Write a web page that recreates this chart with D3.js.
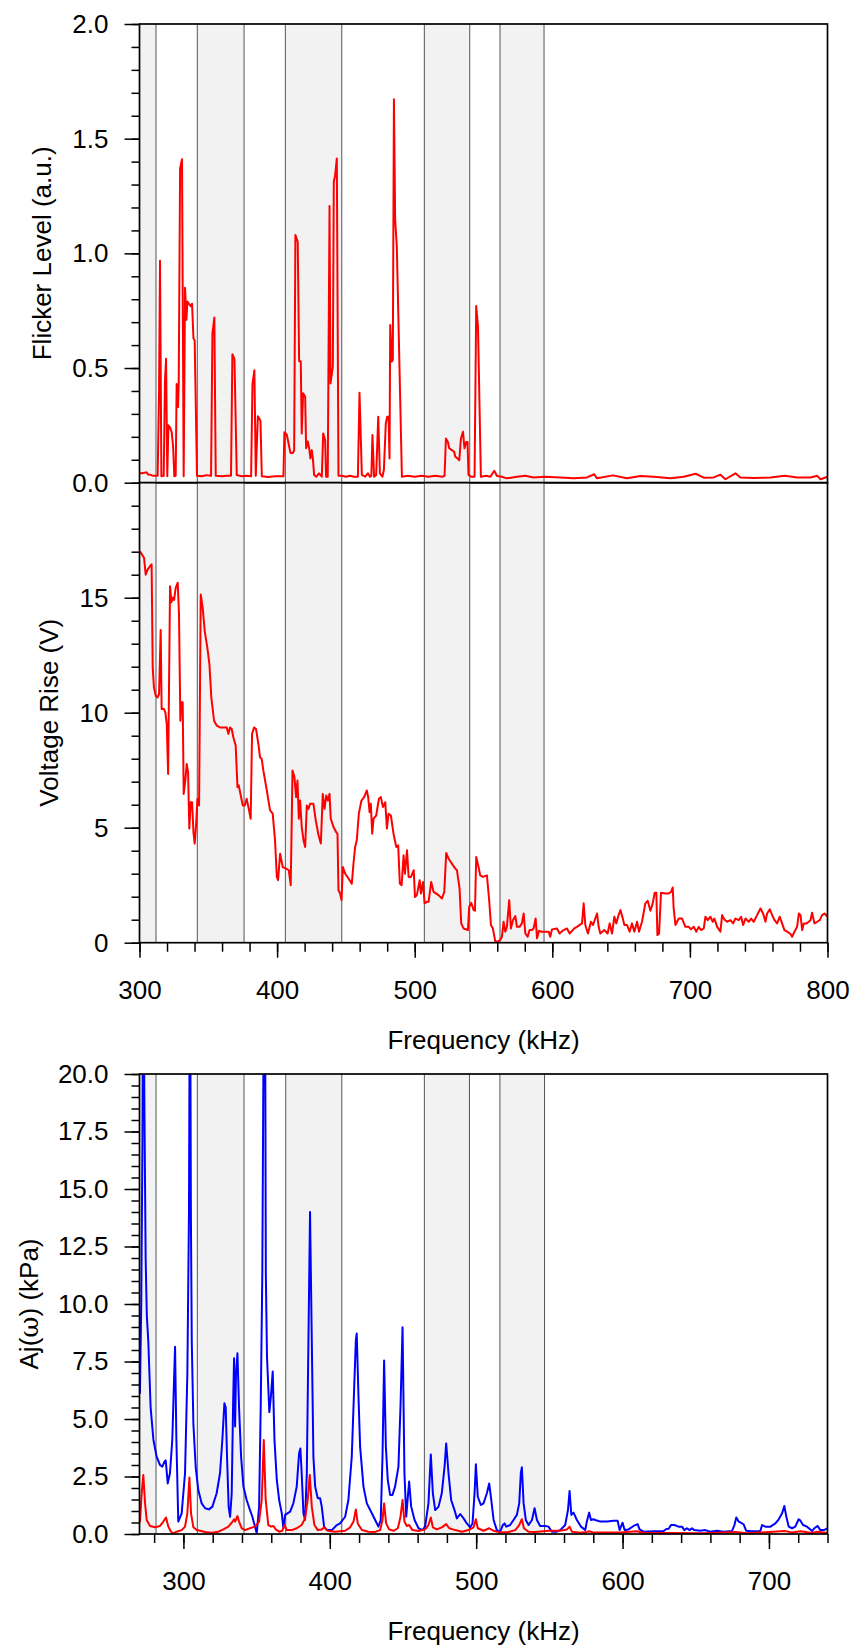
<!DOCTYPE html>
<html>
<head>
<meta charset="utf-8">
<script src="https://cdn.jsdelivr.net/npm/d3@7"></script>
<style>
  body { margin: 0; background: #fff; }
  svg { display: block; font-family: "Liberation Sans", Arial, sans-serif; }
</style>
</head>
<body>
<svg id="chart" width="853" height="1646"></svg>
<script>
// ---- data: [frequency kHz, value] ----
const flicker = [
  [300.3,0.041],[301.6,0.041],[303.5,0.043],[305.2,0.045],[306.2,0.036],[307.6,0.035],[310,0.03],[313.2,0.03],
  [314.2,0.4],[314.9,0.968],[315.4,0.5],[315.9,0.028],[317.6,0.03],[318.5,0.44],[319.3,0.54],[320.2,0.028],
  [321.0,0.25],[322.2,0.24],[323.4,0.22],[324.4,0.16],[325.3,0.028],[326.3,0.03],[327.0,0.43],[328.0,0.33],
  [328.5,0.43],[329.5,1.37],[330.9,1.41],[332.1,0.028],[333.1,0.85],[334.1,0.71],[334.8,0.79],[336.0,0.78],
  [337.2,0.77],[338.2,0.78],[339.2,0.63],[340.1,0.62],[341.8,0.03],[345.2,0.028],[348.8,0.033],[352.0,0.03],
  [353.0,0.65],[354.4,0.72],[355.4,0.03],[359.8,0.028],[363.4,0.03],[366.5,0.03],[367.5,0.56],[369.0,0.54],
  [370.7,0.033],[374.3,0.028],[377.9,0.03],[381.1,0.028],[382.1,0.43],[383.5,0.49],[384.5,0.03],[386.0,0.29],
  [387.9,0.27],[388.9,0.028],[393.7,0.025],[398.5,0.028],[404.6,0.028],[405.3,0.22],[407.0,0.21],[408.7,0.16],
  [409.7,0.13],[411.4,0.13],[412.4,0.14],[413.3,1.08],[415.0,1.05],[416.0,0.53],[417.2,0.53],[417.9,0.215],
  [418.9,0.39],[420.4,0.375],[421.1,0.15],[422.3,0.18],[423.3,0.15],[424.2,0.106],[425.2,0.142],[426.0,0.106],
  [426.9,0.034],[428.5,0.026],[430.5,0.041],[432.5,0.026],[433.5,0.215],[434.9,0.186],[435.6,0.026],[436.8,0.026],
  [438.1,1.206],[438.8,0.433],[439.8,0.477],[440.5,0.506],[441.2,1.312],[442.2,1.341],[443.4,1.414],[444.6,0.03],
  [447,0.03],[450,0.026],[453,0.03],[456,0.026],[458.7,0.026],[459.9,0.392],[461.6,0.034],[464,0.026],
  [466,0.041],[467.5,0.026],[468.5,0.03],[469.3,0.208],[470.5,0.026],[472,0.034],[473.5,0.288],[474.7,0.041],
  [476.5,0.026],[477.6,0.055],[479.0,0.259],[480.0,0.288],[481.0,0.288],[481.7,0.106],[482.2,0.688],[483.4,0.528],
  [484.1,0.535],[484.9,1.672],[485.8,1.146],[487.0,1.03],[490.7,0.026],[495,0.03],[500,0.026],[505,0.03],
  [510,0.026],[515,0.03],[520,0.026],[521.7,0.03],[522.7,0.193],[524.1,0.178],[525.1,0.15],[527.0,0.142],
  [528.7,0.135],[529.5,0.113],[531.1,0.106],[532.4,0.098],[533.6,0.193],[535.1,0.222],[536.2,0.15],[537.5,0.178],
  [538.4,0.178],[539.1,0.034],[541,0.026],[543.5,0.026],[544.7,0.77],[546.0,0.68],[548.1,0.026],[552,0.03],
  [555,0.026],[557.8,0.052],[559.8,0.029],[563.4,0.026],[567.0,0.019],[574.3,0.026],[580.4,0.03],[586.4,0.023],
  [594.4,0.026],[605.8,0.023],[615.5,0.019],[625.2,0.023],[630.5,0.037],[632.5,0.019],[644.1,0.032],[654.3,0.019],
  [664.0,0.029],[673.7,0.026],[685.8,0.019],[695.5,0.026],[704.2,0.039],[710.1,0.022],[717.3,0.023],[722.2,0.035],
  [725.8,0.015],[733.1,0.041],[736.7,0.023],[746.4,0.02],[758.5,0.023],[769.0,0.03],[778.0,0.023],[787.6,0.023],
  [792.5,0.03],[794.9,0.015],[800,0.026]
];

const voltageRise = [
  [300.4,17.02],[303.3,16.73],[304.5,16.0],[305.7,16.2],[307.6,16.37],[308.8,16.45],[309.6,11.96],[310.5,11.1],
  [311.8,10.74],[313.0,10.66],[314.2,10.8],[315.4,13.6],[316.1,10.16],[317.8,10.16],[318.8,10.0],[319.8,9.5],
  [320.8,7.34],[322.2,15.5],[323.2,14.8],[324.1,15.0],[325.1,14.9],[326.3,15.43],[327.8,15.65],[328.7,14.28],
  [329.7,9.65],[330.4,10.45],[331.4,10.45],[332.1,6.47],[333.3,7.05],[334.3,7.77],[335.3,7.41],[336.2,4.96],
  [337.2,6.11],[338.2,6.11],[339.2,4.81],[340.1,4.31],[341.1,5.1],[342.1,6.26],[343.3,5.97],[344.5,15.14],
  [345.9,14.57],[347.4,13.55],[349.3,12.83],[350.8,12.11],[352.2,10.66],[354.2,9.65],[356.1,9.44],[358.5,9.36],
  [361.0,9.36],[363.4,9.36],[364.6,9.08],[365.8,9.36],[367.0,9.29],[368.2,8.93],[369.9,8.57],[371.2,6.76],
  [372.1,6.84],[373.6,6.4],[375.0,5.97],[376.5,5.97],[377.9,6.26],[379.4,5.82],[380.8,5.39],[381.8,9.08],
  [383.3,9.36],[384.7,9.29],[386.4,8.64],[387.6,8.06],[388.8,7.99],[390.0,7.49],[392.5,6.62],[394.9,5.75],
  [396.8,5.61],[398.5,4.45],[399.8,2.86],[400.7,2.72],[402.2,3.87],[404.1,3.29],[406.5,3.22],[408.5,3.15],
  [409.9,2.5],[411.2,7.49],[412.6,7.2],[413.8,6.33],[414.8,7.05],[415.8,5.39],[416.7,6.18],[417.9,5.03],
  [419.2,4.45],[420.4,4.16],[421.6,5.97],[422.8,5.82],[424.0,6.04],[426.4,6.04],[428.1,5.32],[430.1,4.67],
  [431.8,4.31],[433.2,6.47],[434.5,5.82],[435.7,6.4],[436.9,6.18],[438.1,6.47],[439.0,5.39],[441.0,5.03],
  [442.9,4.81],[443.9,4.74],[444.6,2.28],[445.8,2.14],[446.8,1.85],[447.8,3.29],[449.5,3.0],[451.9,2.79],
  [454.3,2.57],[455.5,3.44],[456.7,4.16],[457.9,4.45],[459.4,5.61],[461.3,6.18],[463.3,6.33],[465.2,6.62],
  [466.2,6.33],[467.2,5.68],[468.1,6.04],[469.1,4.74],[470.1,5.39],[472.0,5.53],[474.0,6.26],[475.4,6.33],
  [476.9,5.9],[478.6,6.11],[479.8,4.96],[481.0,5.61],[482.7,5.53],[484.6,4.74],[486.6,4.16],[488.0,4.23],
  [489.2,2.57],[490.5,2.5],[491.9,3.8],[492.9,3.0],[494.4,4.02],[495.6,2.86],[497.3,2.86],[499.3,3.15],
  [500.2,1.99],[501.6,2.07],[503.6,2.72],[504.5,2.14],[506.0,2.64],[507.2,1.71],[508.9,1.78],[510.1,1.78],
  [512.0,2.64],[513.7,2.21],[517.3,2.07],[519.8,1.92],[521.5,2.21],[522.9,3.9],[524.6,3.66],[527.0,3.44],
  [529.5,3.22],[530.7,3.15],[532.6,2.36],[533.8,0.84],[535.5,0.62],[538.7,0.55],[539.6,1.56],[541.1,1.73],
  [542.8,1.42],[543.8,1.39],[544.7,3.73],[546.4,3.29],[547.6,2.93],[549.6,2.86],[552.5,2.93],[554.2,1.78],
  [555.4,0.77],[556.8,0.62],[558.5,0.07],[560.2,0.04],[562.2,0.12],[563.4,0.26],[564.6,0.91],[565.8,0.48],
  [567.0,0.69],[568.7,1.85],[569.9,0.62],[571.4,0.98],[573.1,1.16],[574.3,0.69],[576.2,0.69],[577.9,0.84],
  [579.2,1.27],[580.4,0.40],[582.1,0.26],[583.5,0.55],[585.2,0.55],[586.4,0.62],[587.9,1.05],[588.9,0.19],
  [590.3,0.52],[591.8,0.48],[594.9,0.48],[597.3,0.48],[598.5,0.26],[599.8,0.58],[603.4,0.62],[605.3,0.40],
  [608.2,0.55],[610.7,0.62],[612.6,0.40],[616.0,0.62],[617.9,0.69],[621.6,0.84],[622.8,1.71],[624.0,0.77],
  [625.9,0.40],[628.1,0.91],[629.6,0.77],[632.5,1.27],[633.7,0.69],[634.9,0.40],[637.8,0.55],[640.2,0.40],
  [641.7,0.84],[643.4,0.40],[645.1,1.13],[646.5,0.84],[648.2,1.20],[649.5,1.42],[650.9,1.13],[652.4,0.77],
  [654.3,0.77],[656.2,0.48],[657.9,0.84],[659.6,0.48],[661.6,0.91],[663.0,0.48],[665.2,0.91],[667.6,1.71],
  [669.3,1.82],[671.3,1.39],[673.0,1.71],[674.4,2.17],[675.6,2.17],[676.4,0.33],[677.6,0.40],[679.0,2.17],
  [682.2,2.14],[684.6,2.14],[686.3,2.21],[687.5,2.40],[688.2,1.49],[689.5,0.77],[691.9,1.05],[694.3,1.05],
  [696.7,0.69],[699.2,0.69],[700.8,0.58],[702.8,0.69],[704.7,0.48],[706.4,0.69],[708.1,0.55],[710.1,0.62],
  [711.3,1.13],[713.0,0.98],[714.9,1.13],[716.6,0.91],[717.8,1.05],[719.8,0.69],[722.2,0.48],[723.4,1.20],
  [725.1,1.01],[727.0,0.91],[729.5,0.98],[731.4,0.84],[733.1,1.05],[735.5,0.98],[737.2,1.13],[738.7,0.77],
  [740.4,1.05],[742.8,0.91],[744.5,1.05],[746.4,0.91],[748.8,1.20],[751.3,1.49],[753.2,1.27],[754.9,0.91],
  [756.1,1.27],[758.1,1.45],[759.8,1.20],[761.5,0.98],[763.4,0.84],[765.3,1.13],[767.0,0.84],[768.7,0.55],
  [770.7,0.48],[773.1,0.38],[774.3,0.26],[776.0,0.48],[777.9,0.69],[779.2,1.27],[780.4,1.20],[781.6,0.55],
  [782.8,0.84],[784.7,0.84],[786.4,0.91],[787.6,0.98],[788.8,1.30],[790.5,0.84],[792.5,0.91],[794.4,0.98],
  [796.1,1.20],[797.8,1.27],[800.0,1.13]
];

const ajBlue = [
  [270.3,6.1],[271.2,10],[272.0,17],[272.6,27],[273.3,19],[274.2,12],[275.0,9.5],[276.0,8.4],[277.6,5.5],
  [279.5,4.1],[281.7,3.36],[284.0,3.0],[285.6,2.93],[287.0,3.14],[287.9,3.2],[289.3,2.2],[290.8,2.64],
  [292.4,4.1],[293.5,6.5],[294.3,8.14],[295.2,4.1],[296.5,0.54],[298.8,0.9],[301.1,2.64],[302.7,7.0],
  [303.8,14],[304.5,27],[305.1,14],[305.7,8.4],[306.8,4.8],[308.4,2.9],[310.2,1.9],[312.5,1.33],[314.8,1.12],
  [317.5,1.07],[319.8,1.19],[322.7,1.77],[325.0,2.64],[326.6,4.1],[328.0,5.68],[328.9,5.5],[329.8,3.36],
  [330.9,1.19],[331.9,0.75],[333.0,1.77],[333.9,5.5],[334.6,7.64],[335.3,4.67],[335.9,6.9],[336.9,7.86],
  [338.0,5.5],[339.4,3.36],[341.0,2.06],[343.2,1.48],[345.5,1.04],[347.1,0.75],[348.9,0.32],[350.1,0.03],
  [351.7,1.19],[352.8,5.5],[353.9,11.3],[354.7,21],[355.3,30],[355.9,21],[356.3,11.3],[357.1,7.7],[358.7,5.3],
  [359.8,6.0],[361.0,7.06],[362.2,4.1],[363.8,2.35],[365.4,1.48],[367.2,0.9],[368.3,0.25],[369.5,0.83],
  [372.9,0.97],[375.1,1.33],[377.4,2.06],[379.0,3.5],[379.9,3.72],[380.8,2.64],[382.0,0.9],[383.1,0.61],
  [384.3,2.64],[385.4,8.4],[386.5,14.0],[387.7,8.4],[388.8,3.36],[390.0,2.06],[391.8,1.55],[393.4,1.55],
  [394.5,1.19],[396.1,0.32],[397.9,0.17],[401.4,0.17],[404.8,0.39],[407.0,0.46],[410.5,0.75],[412.7,1.48],
  [415.0,3.36],[416.6,6.26],[417.8,8.43],[418.4,8.72],[419.6,5.97],[420.7,3.8],[423.0,2.06],[425.3,1.33],
  [428.7,0.9],[431.0,0.61],[433.2,0.32],[434.8,0.61],[436.0,3.36],[437.1,7.54],[438.3,3.8],[439.6,2.35],
  [441.2,1.7],[442.8,1.7],[444.6,2.06],[446.9,2.93],[448.3,5.54],[449.7,8.99],[451.0,2.64],[452.2,0.75],
  [453.3,1.6],[454.2,2.28],[455.6,1.19],[457.9,0.61],[460.6,0.25],[463.3,0.17],[465.1,0.32],[467.4,1.33],
  [469.0,3.46],[470.4,1.77],[472.0,1.04],[474.3,1.19],[476.5,1.77],[478.4,2.93],[479.5,3.94],[481.1,2.64],
  [482.9,1.48],[485.2,1.04],[486.8,0.68],[489.1,0.87],[491.4,0.68],[493.6,0.46],[495.9,0.29],[497.5,0.46],
  [498.9,1.77],[499.8,3.03],[501.1,1.62],[503.2,1.26],[505.0,1.33],[507.3,1.77],[508.9,2.2],[510.3,1.48],
  [511.9,0.61],[514.1,0.17],[516.4,0.1],[518.2,0.39],[519.4,0.46],[520.5,0.32],[523.2,0.39],[525.5,0.61],
  [527.8,0.83],[529.4,1.33],[530.5,2.64],[531.2,2.9],[532.4,1.33],[533.9,0.61],[535.8,0.39],[538.1,0.61],
  [539.9,1.12],[541.5,0.61],[543.7,0.35],[547.2,0.35],[549.4,0.32],[551.7,0.1],[555.1,0.1],[557.4,0.17],
  [560.8,0.39],[562.7,1.04],[563.8,1.87],[565.0,0.83],[566.5,0.93],[568.8,0.61],[571.6,0.32],[574.5,0.17],
  [575.6,0.54],[577.2,0.93],[578.4,0.61],[580.2,0.64],[581.4,0.61],[584.8,0.54],[589.3,0.54],[593.9,0.58],
  [596.6,0.58],[598.0,0.17],[600.0,0.49],[601.4,0.17],[604.1,0.2],[607.5,0.35],[610.3,0.43],[611.6,0.2],
  [614.4,0.1],[621.2,0.12],[628.1,0.13],[629.9,0.22],[631.5,0.23],[633.1,0.39],[635.3,0.39],[638.3,0.32],
  [640.6,0.32],[642.2,0.17],[644.0,0.25],[645.8,0.17],[647.4,0.25],[649.0,0.17],[653.1,0.14],[656.5,0.17],
  [659.9,0.1],[664.5,0.14],[669.1,0.1],[674.8,0.13],[676.4,0.39],[677.7,0.72],[679.3,0.54],[680.9,0.49],
  [682.7,0.42],[684.5,0.14],[687.3,0.12],[691.9,0.12],[694.1,0.13],[695.3,0.39],[697.5,0.32],[701.0,0.32],
  [704.4,0.46],[706.7,0.64],[709.0,0.9],[710.5,1.22],[711.9,0.75],[713.5,0.32],[715.8,0.25],[718.0,0.32],
  [720.3,0.64],[721.5,0.58],[723.3,0.39],[726.0,0.32],[729.5,0.13],[731.0,0.25],[733.3,0.35],[735.1,0.17],
  [737.4,0.17],[740.2,0.25]
];

const ajRed = [
  [270.3,0.5],[271.5,1.77],[272.6,2.57],[273.8,1.33],[274.9,0.61],[277.2,0.35],[280.6,0.29],[284.0,0.35],
  [286.3,0.54],[288.1,0.72],[289.7,0.32],[291.5,0.1],[293.1,0.03],[295.4,0.1],[298.8,0.17],[301.1,0.32],
  [302.7,0.9],[304.1,2.46],[305.2,0.9],[306.8,0.29],[309.1,0.17],[311.4,0.14],[314.8,0.09],[319.3,0.06],
  [323.9,0.1],[327.3,0.2],[330.7,0.32],[333.0,0.49],[334.6,0.64],[335.3,0.54],[336.9,0.78],[338.0,0.54],
  [339.8,0.25],[342.1,0.17],[345.5,0.25],[348.9,0.32],[351.7,0.54],[353.5,1.48],[354.9,4.09],[356.2,1.48],
  [358.0,0.39],[359.9,0.32],[361.5,0.35],[363.1,0.2],[365.4,0.1],[367.6,0.14],[369.0,0.39],[370.6,0.17],
  [374.0,0.17],[377.4,0.25],[380.8,0.39],[383.1,0.68],[384.9,1.48],[386.3,2.57],[387.7,1.19],[389.5,0.39],
  [391.8,0.17],[394.5,0.2],[396.3,0.29],[398.6,0.14],[403.6,0.1],[410.5,0.14],[413.9,0.29],[416.2,0.54],
  [417.8,1.07],[419.1,0.46],[421.9,0.17],[426.4,0.1],[431.0,0.09],[434.4,0.17],[436.0,0.61],[437.1,1.33],
  [438.5,0.46],[440.5,0.2],[443.5,0.14],[446.5,0.25],[448.3,0.75],[449.7,1.48],[451.0,0.54],[452.6,0.35],
  [454.2,0.39],[456.5,0.17],[460.6,0.13],[465.1,0.2],[467.4,0.39],[469.0,0.72],[470.4,0.29],[473.1,0.2],
  [476.5,0.29],[479.5,0.43],[481.6,0.25],[485.7,0.17],[490.2,0.1],[494.8,0.17],[498.2,0.29],[499.8,0.64],
  [501.1,0.25],[505.0,0.14],[508.9,0.25],[511.9,0.14],[516.4,0.06],[522.1,0.09],[526.7,0.17],[529.4,0.39],
  [531.2,0.64],[532.6,0.25],[535.8,0.1],[540.3,0.09],[549.4,0.14],[557.4,0.14],[562.0,0.2],[563.8,0.32],
  [565.4,0.1],[571.1,0.06],[575.6,0.09],[577.2,0.12],[580.2,0.06],[598.4,0.06],[609.8,0.12],[614.4,0.04],
  [632.6,0.04],[655.4,0.03],[677.0,0.09],[685.0,0.03],[710.5,0.13],[715.8,0.07],[721.5,0.12],[729.5,0.04],
  [732.9,0.1],[740.2,0.04]
];

// shaded frequency bands [start, end] in kHz
const bandsUpper = [[300,312],[342,376],[406,447],[507,540],[562,594]];
const bandsLower = [[270,281.3],[309.5,341.4],[369.9,408.2],[464.6,495.4],[516.2,546.7]];

// axes
const freqUpperDomain = [300, 800];
const freqLowerDomain = [270, 740];
const freqUpperTicks = [300, 400, 500, 600, 700, 800];
const freqLowerTicks = [300, 400, 500, 600, 700];
const flickerTicks = [0, 0.5, 1.0, 1.5, 2.0];
const voltageTicks = [0, 5, 10, 15];
const ajTicks = [0, 2.5, 5, 7.5, 10, 12.5, 15, 17.5, 20];

// ---- layout ----
const svg = d3.select('#chart');
const L = 139.5, R = 827.5;
const FS = 26;

const xUpper = d3.scaleLinear().domain(freqUpperDomain).range([L, R]);
const xLower = d3.scaleLinear().domain(freqLowerDomain).range([L, R]);

function range(a, b, step) {
  return d3.range(Math.round((b - a) / step) + 1).map(i => +(a + i * step).toFixed(4));
}

function drawPanel(p) {
  const g = svg.append('g');
  const clipId = 'clip' + Math.round(p.top);
  g.append('clipPath').attr('id', clipId)
    .append('rect').attr('x', L).attr('y', p.top).attr('width', R - L).attr('height', p.bottom - p.top);

  // bands
  g.selectAll('rect.band').data(p.bands).join('rect')
    .attr('class', 'band')
    .attr('x', d => p.x(d[0]))
    .attr('width', d => p.x(d[1]) - p.x(d[0]))
    .attr('y', p.top).attr('height', p.bottom - p.top)
    .attr('fill', '#f2f2f2');

  const edges = p.bands.flat().filter(f => f > p.x.domain()[0]);
  g.selectAll('line.edge').data(edges).join('line')
    .attr('class', 'edge')
    .attr('x1', d => p.x(d)).attr('x2', d => p.x(d))
    .attr('y1', p.top).attr('y2', p.bottom)
    .attr('stroke', '#555').attr('stroke-width', 1);

  // series
  const line = d3.line().x(d => p.x(d[0])).y(d => p.y(d[1]));
  p.series.forEach(s => {
    g.append('path').datum(s.data)
      .attr('clip-path', `url(#${clipId})`)
      .attr('fill', 'none')
      .attr('stroke', s.color)
      .attr('stroke-width', 2)
      .attr('stroke-linejoin', 'round')
      .attr('d', line);
  });

  // y axis: minor then major
  g.append('g').attr('transform', `translate(${L},0)`)
    .call(d3.axisLeft(p.y).tickValues(p.yMinor).tickSize(8).tickFormat(''))
    .call(a => a.select('.domain').remove());
  g.append('g').attr('transform', `translate(${L},0)`)
    .call(d3.axisLeft(p.y).tickValues(p.yMajor).tickSize(15).tickPadding(16).tickFormat(p.yFmt))
    .call(a => a.select('.domain').remove())
    .call(a => a.selectAll('text').attr('font-size', FS).attr('fill', '#000').attr('font-family', null));

  // x axis
  if (p.xMajor) {
    g.append('g').attr('transform', `translate(0,${p.bottom})`)
      .call(d3.axisBottom(p.x).tickValues(p.xMinor).tickSize(9).tickFormat(''))
      .call(a => a.select('.domain').remove());
    g.append('g').attr('transform', `translate(0,${p.bottom})`)
      .call(d3.axisBottom(p.x).tickValues(p.xMajor).tickSize(15).tickPadding(23).tickFormat(d3.format('d')))
      .call(a => a.select('.domain').remove())
      .call(a => a.selectAll('text').attr('font-size', FS).attr('fill', '#000').attr('font-family', null));
    svg.append('text')
      .attr('x', (L + R) / 2).attr('y', p.bottom + 106)
      .attr('text-anchor', 'middle').attr('font-size', FS)
      .text('Frequency (kHz)');
  }
  g.selectAll('.tick line').attr('stroke', '#000').attr('stroke-width', 1.5);

  // frame
  g.append('rect').attr('x', L).attr('y', p.top)
    .attr('width', R - L).attr('height', p.bottom - p.top)
    .attr('fill', 'none').attr('stroke', '#000').attr('stroke-width', 1.7);

  // y title
  const t = svg.append('text')
    .attr('transform', `translate(${p.titleX},${(p.top + p.bottom) / 2}) rotate(-90)`)
    .attr('text-anchor', 'middle').attr('dy', '0.35em').attr('font-size', FS);
  p.title(t);
}

drawPanel({
  top: 24, bottom: 482.7, x: xUpper,
  y: d3.scaleLinear().domain([0, 2]).range([482.7, 24]),
  bands: bandsUpper,
  series: [{ data: flicker, color: '#ff0000' }],
  yMajor: flickerTicks, yMinor: range(0, 2, 0.1), yFmt: d3.format('.1f'),
  titleX: 42,
  title: t => t.text('Flicker Level (a.u.)')
});

drawPanel({
  top: 482.7, bottom: 942.7, x: xUpper,
  y: d3.scaleLinear().domain([0, 20]).range([942.7, 482.7]),
  bands: bandsUpper,
  series: [{ data: voltageRise, color: '#ff0000' }],
  yMajor: voltageTicks, yMinor: range(0, 19, 1), yFmt: d3.format('d'),
  xMajor: freqUpperTicks, xMinor: range(300, 800, 20),
  titleX: 49,
  title: t => t.text('Voltage Rise (V)')
});

drawPanel({
  top: 1074, bottom: 1534, x: xLower,
  y: d3.scaleLinear().domain([0, 20]).range([1534, 1074]),
  bands: bandsLower,
  series: [{ data: ajBlue, color: '#0000ff' }, { data: ajRed, color: '#ff0000' }],
  yMajor: ajTicks, yMinor: range(0, 20, 0.5), yFmt: d3.format('.1f'),
  xMajor: freqLowerTicks, xMinor: range(280, 740, 20),
  titleX: 29,
  title: t => {
    t.append('tspan').text('Aj(');
    t.append('tspan').attr('font-family', '"DejaVu Serif", "Liberation Serif", serif').text('ω');
    t.append('tspan').text(') (kPa)');
  }
});
</script>
</body>
</html>
